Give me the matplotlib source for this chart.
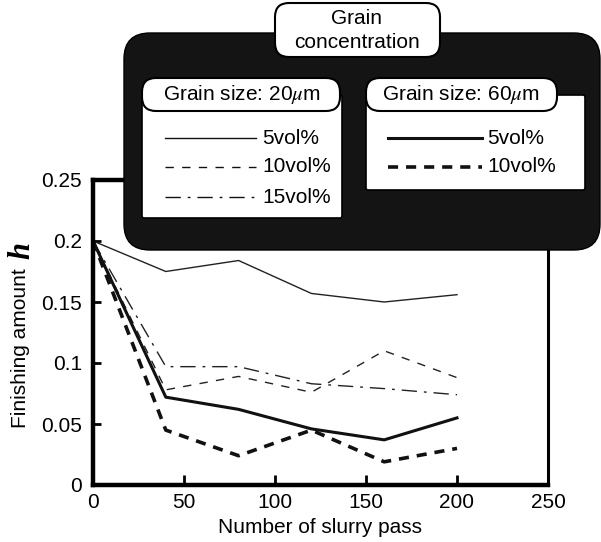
import matplotlib
matplotlib.use("Agg")
import matplotlib.pyplot as plt
from matplotlib.patches import FancyBboxPatch
from matplotlib.lines import Line2D

plt.rcParams['font.family'] = ['Liberation Sans', 'DejaVu Sans']
plt.rcParams['mathtext.fontset'] = 'stix'

# Data
passes = [0, 40, 80, 120, 160, 200]
g20_5 = [0.200, 0.175, 0.184, 0.157, 0.150, 0.156]
g20_10 = [0.200, 0.078, 0.089, 0.076, 0.110, 0.088]
g20_15 = [0.200, 0.097, 0.097, 0.083, 0.079, 0.074]
g60_5 = [0.200, 0.072, 0.062, 0.046, 0.037, 0.055]
g60_10 = [0.200, 0.045, 0.024, 0.045, 0.019, 0.030]

xticks = [0, 50, 100, 150, 200, 250]
yticks = [0, 0.05, 0.1, 0.15, 0.2, 0.25]
ytick_labels = ["0", "0.05", "0.1", "0.15", "0.2", "0.25"]

FS = 15
thin_dash = (6, 6)
dashdot = (11, 5, 2, 5)
thick_dash = (2.8, 2.2)

fig = plt.figure(figsize=(6.01, 5.42), dpi=100)
ax = fig.add_axes([93 / 601, 1 - 485 / 542, (548 - 93) / 601, (485 - 180) / 542])

ax.plot(passes, g20_5, color='#222', lw=1.0)
ax.plot(passes, g20_10, color='#222', lw=1.0, dashes=thin_dash)
ax.plot(passes, g20_15, color='#222', lw=1.0, dashes=dashdot)
ax.plot(passes, g60_5, color='#111', lw=2.2)
ax.plot(passes, g60_10, color='#111', lw=2.6, dashes=thick_dash)

ax.set_xlim(0, 250)
ax.set_ylim(0, 0.25)
ax.set_xticks(xticks)
ax.set_yticks(yticks)
ax.set_yticklabels(ytick_labels)
for s in ax.spines.values():
    s.set_linewidth(3.2)
ax.spines['right'].set_linewidth(2.2)
ax.tick_params(direction='in', width=2, labelsize=FS)
ax.tick_params(axis='x', length=7.5, pad=6)
ax.tick_params(axis='y', length=6, pad=8)
ax.set_xlabel("Number of slurry pass", fontsize=FS, labelpad=4)

# y label: sans text plus a bold italic serif "h"
fig.text(20 / 601, 1 - 428 / 542, "Finishing amount", fontsize=FS, rotation=90,
         rotation_mode='anchor', ha='left', va='center')
fig.text(22 / 601, 1 - 259 / 542, "h", fontsize=22, rotation=90, family='Liberation Serif',
         style='italic', weight='bold', rotation_mode='anchor', ha='left', va='center')

# Legend panel (drawn in pixel units via inches, dpi = 100)
tr = fig.dpi_scale_trans


def box(x0, y0, x1, y1, r, fc, ec, lw, z):
    p = FancyBboxPatch((x0 / 100, (542 - y1) / 100), (x1 - x0) / 100, (y1 - y0) / 100,
                       boxstyle="round,pad=0,rounding_size=%f" % (r / 100),
                       transform=tr, fc=fc, ec=ec, lw=lw, zorder=z)
    fig.add_artist(p)


def txt(x, y, s, **kw):
    fig.text(x / 601, 1 - y / 542, s, fontsize=FS, zorder=10, **kw)


def sample(x0, x1, y, **kw):
    fig.add_artist(Line2D([x0 / 601, x1 / 601], [1 - y / 542, 1 - y / 542],
                          transform=fig.transFigure, color='#111', zorder=10, **kw))


box(124, 33, 600, 250, 26, '#141414', '#000', 1, 5)
box(142, 95, 342, 218, 2, 'white', '#000', 1.2, 6)
box(366, 95, 585, 190, 2, 'white', '#000', 1.2, 6)
box(275, 3, 440, 57, 14, 'white', '#000', 1.5, 7)
box(142, 78, 340, 111, 14, 'white', '#000', 1.5, 7)
box(366, 78, 557, 111, 14, 'white', '#000', 1.5, 7)

txt(357, 19, "Grain", ha='center', va='center')
txt(357, 42, "concentration", ha='center', va='center')
txt(242, 95, "Grain size: 20$\\mu$m", ha='center', va='center')
txt(461, 95, "Grain size: 60$\\mu$m", ha='center', va='center')

sample(165, 256, 138, lw=1.0)
sample(165, 256, 167, lw=1.0, dashes=thin_dash)
sample(165, 256, 197, lw=1.0, dashes=dashdot)
txt(262, 138, "5vol%", va='center')
txt(262, 167, "10vol%", va='center')
txt(262, 197, "15vol%", va='center')

sample(388, 482, 138, lw=2.2)
sample(388, 482, 167, lw=2.6, dashes=thick_dash)
txt(487, 138, "5vol%", va='center')
txt(487, 167, "10vol%", va='center')

fig.savefig("out.png", dpi=100)
